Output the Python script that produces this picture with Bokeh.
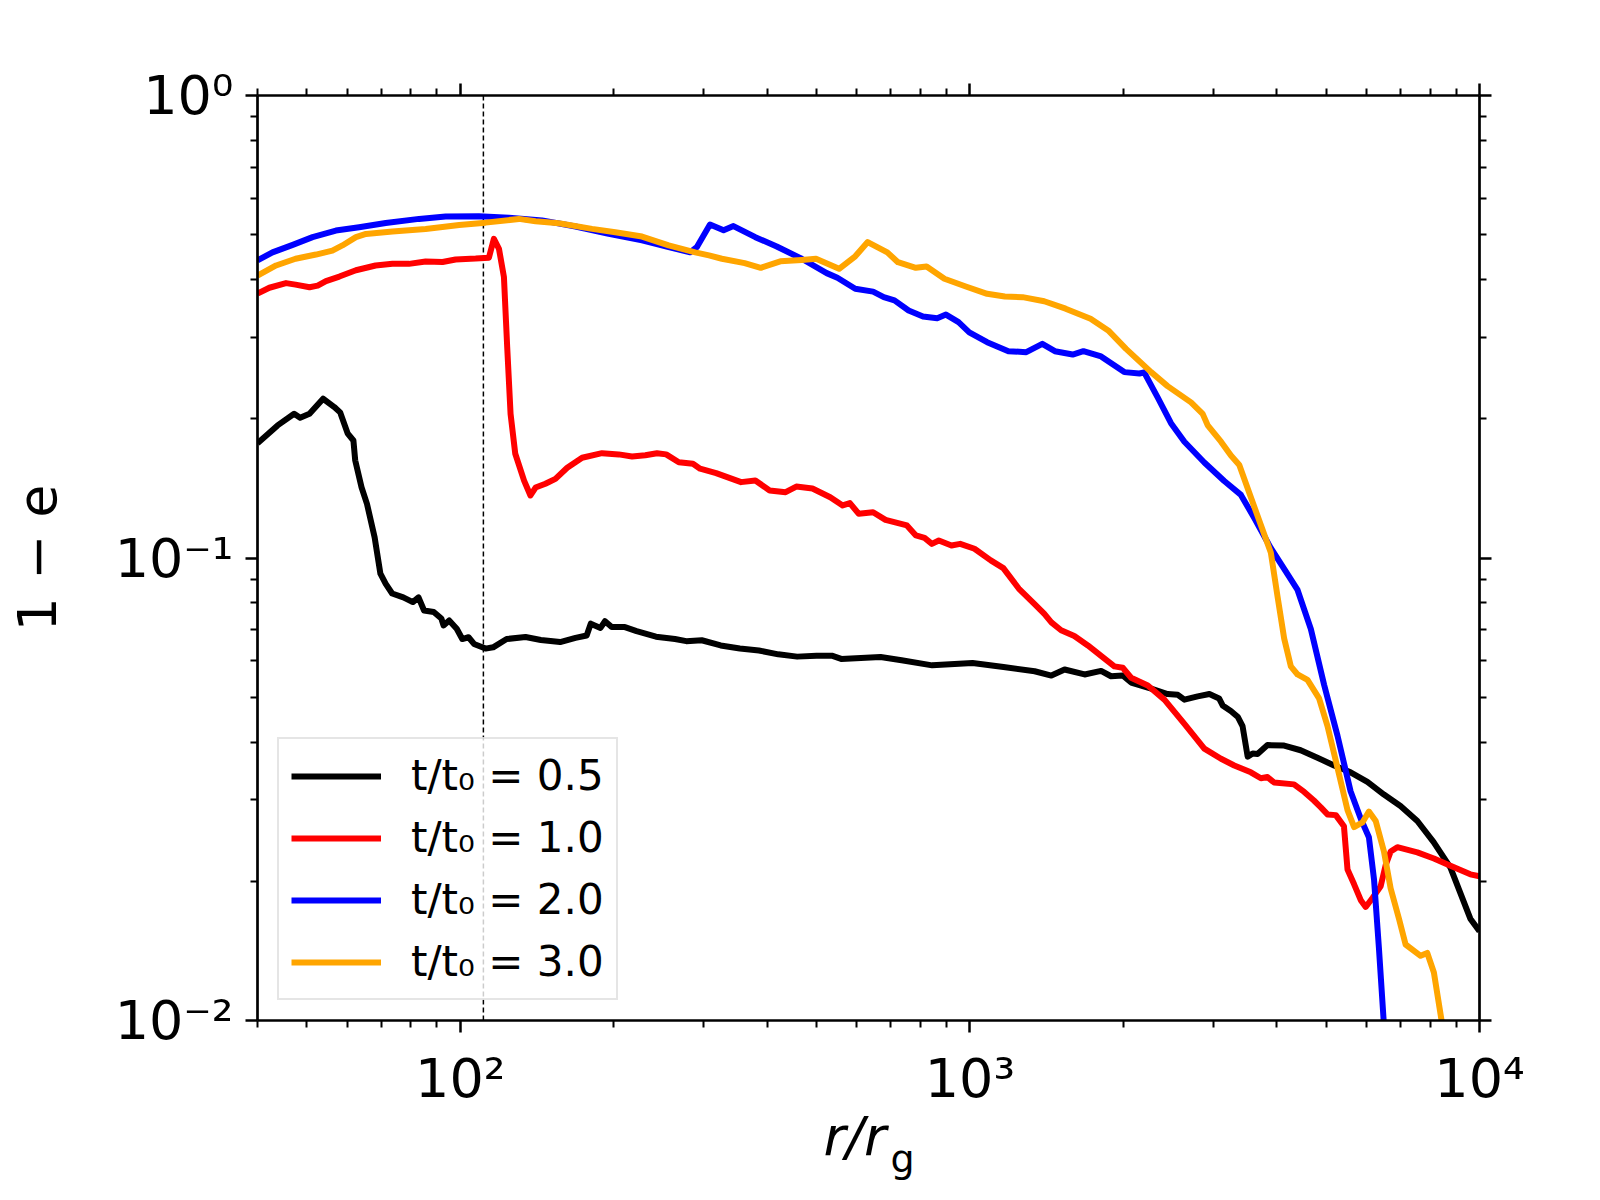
from bokeh.plotting import figure
from bokeh.models import (LogAxis, FixedTicker, CustomJSTickFormatter, Span,
                          Legend, LegendItem, Title)
from bokeh.embed import file_html
from bokeh.resources import INLINE

# ---------------- data ----------------
r_t05 = [40, 43.8, 47.2, 48.5, 50.6, 53.8, 56.6, 58.1, 60.1, 61.7,
         62.2, 64.0, 65.6, 67.9, 69.7, 71.4, 73.5, 77.3, 80.7, 82.8,
         84.9, 88.7, 91.8, 92.7, 95.1, 98.4, 100.9, 103.8, 106.4, 112.1,
         116.0, 123.3, 134.3, 143.9, 157.0, 168.3, 177.0, 180.3, 188.4, 192.3,
         198.2, 210.4, 221.8, 242.1, 263.8, 277.6, 297.7, 324.3, 353.7, 385.5,
         420.7, 458.1, 500.0, 535.8, 559.1, 667.9, 734.5, 843.3, 1012, 1164,
         1340, 1445, 1534, 1679, 1809, 1892, 1995, 2072, 2268, 2443,
         2559, 2636, 2799, 2951, 3083, 3133, 3251, 3357, 3428, 3508,
         3589, 3668, 3837, 4137, 4457, 4808, 5183, 5585, 6026, 6494,
         6998, 7551, 8128, 8770, 9594, 10000]
e_t05 = [0.177, 0.1935, 0.205, 0.201, 0.205, 0.221, 0.212, 0.2065, 0.186, 0.1795,
         0.1626, 0.1422, 0.1309, 0.1109, 0.0925, 0.0879, 0.0838, 0.0822, 0.0803, 0.0822,
         0.0770, 0.0764, 0.0740, 0.0715, 0.0733, 0.0703, 0.0668, 0.0674, 0.0652, 0.0637,
         0.0641, 0.0668, 0.0675, 0.0665, 0.0658, 0.0672, 0.0680, 0.0721, 0.0706, 0.0730,
         0.0709, 0.0709, 0.0695, 0.0676, 0.0668, 0.0661, 0.0664, 0.0647, 0.0637, 0.0631,
         0.0619, 0.0612, 0.0615, 0.0615, 0.0605, 0.0611, 0.0601, 0.0586, 0.0593, 0.0581,
         0.0569, 0.0557, 0.0574, 0.0560, 0.0570, 0.0555, 0.0557, 0.0538, 0.0522, 0.0508,
         0.0506, 0.0494, 0.0502, 0.0508, 0.0497, 0.0480, 0.0467, 0.0453, 0.0433, 0.0372,
         0.0378, 0.0377, 0.0394, 0.0393, 0.0384, 0.0370, 0.0356, 0.0344, 0.0328, 0.0308,
         0.0291, 0.0270, 0.0243, 0.0214, 0.0166, 0.0156]

r_t10 = [40, 42.2, 45.5, 47.5, 50.6, 52.5, 54.5, 57.9, 62.4, 68.2,
         73.6, 79.3, 85.5, 92.3, 97.9, 107.2, 113.8, 116.4, 119.1, 121.8,
         123.6, 125.5, 128.2, 133.4, 137.3, 140.5, 146.9, 153.7, 162.1, 173.4,
         189.7, 204.6, 217.3, 230.7, 243.2, 253.5, 268.4, 286.1, 295.5, 317.7,
         355.6, 379.3, 404.6, 434.9, 456.4, 490.9, 532.1, 562.8, 581.4, 605.3,
         645.7, 683.0, 752.4, 783.6, 814.7, 842.2, 869.0, 920.0, 957.2, 1021,
         1099, 1163, 1247, 1338, 1400, 1445, 1510, 1603, 1704, 1809,
         1921, 1995, 2072, 2234, 2408, 2636, 2884, 3110, 3302, 3559,
         3724, 3837, 3954, 4325, 4529, 4732, 4883, 5032, 5224, 5420,
         5508, 5675, 5848, 5980, 6166, 6397, 6546, 6694, 6899, 7551,
         8138, 8770, 9594, 10000]
e_t10 = [0.373, 0.384, 0.393, 0.390, 0.385, 0.388, 0.397, 0.406, 0.419, 0.429,
         0.4325, 0.4325, 0.4375, 0.4365, 0.442, 0.444, 0.446, 0.490, 0.466, 0.405,
         0.286, 0.205, 0.168, 0.147, 0.1365, 0.142, 0.1447, 0.1483, 0.1567, 0.1647,
         0.1685, 0.1675, 0.1658, 0.1668, 0.1685, 0.1675, 0.1611, 0.1598, 0.156, 0.1526,
         0.1459, 0.1471, 0.140, 0.1388, 0.1427, 0.1413, 0.1353, 0.1299, 0.1314, 0.1246,
         0.1256, 0.1209, 0.1176, 0.1119, 0.1105, 0.1073, 0.1091, 0.1064, 0.1073, 0.1047,
         0.0988, 0.0951, 0.0859, 0.0796, 0.0757, 0.0726, 0.0698, 0.0678, 0.0647, 0.0614,
         0.0583, 0.0579, 0.0551, 0.0530, 0.0494, 0.0438, 0.0387, 0.0368, 0.0356, 0.0344,
         0.0334, 0.0336, 0.0327, 0.0324, 0.0312, 0.0299, 0.0289, 0.0279, 0.0278, 0.0263,
         0.0212, 0.0197, 0.0182, 0.0176, 0.0184, 0.0195, 0.0217, 0.0232, 0.0237, 0.0231,
         0.0224, 0.0216, 0.0207, 0.0205]

r_t20 = [40, 42.8, 46.9, 51.3, 57.0, 63.3, 71.4, 83.0, 93.6, 108.8,
         124.6, 144.7, 168.3, 195.6, 227.3, 256.4, 282.5, 291.1, 309.0, 328.6,
         343.6, 379.3, 417.8, 467.7, 523.6, 549.5, 595.7, 645.7, 677.7, 711.2,
         758.2, 809.1, 862.7, 897.5, 950.0, 997.2, 1081, 1190, 1290, 1387,
         1468, 1591, 1670, 1809, 2009, 2151, 2198, 2337, 2481, 2636,
         2884, 3156, 3403, 3614, 3896, 4137, 4395, 4667, 4955, 5264,
         5585, 5848, 6067, 6209, 6349, 6494, 6546]
e_t20 = [0.440, 0.458, 0.4755, 0.494, 0.5105, 0.519, 0.530, 0.541, 0.5475, 0.548,
         0.544, 0.537, 0.521, 0.502, 0.486, 0.470, 0.458, 0.470, 0.526, 0.511,
         0.522, 0.494, 0.4715, 0.4436, 0.413, 0.4036, 0.382, 0.3767, 0.3664, 0.3606,
         0.3428, 0.3327, 0.330, 0.336, 0.3236, 0.3076, 0.2928, 0.280, 0.2786, 0.2904,
         0.280, 0.2754, 0.280, 0.2727, 0.2523, 0.2506, 0.2520, 0.2222, 0.1956, 0.1784,
         0.1609, 0.1467, 0.1369, 0.1220, 0.1050, 0.0947, 0.0853, 0.0702, 0.0532, 0.0413,
         0.0313, 0.0273, 0.0249, 0.0202, 0.0143, 0.00977, 0.0087]

r_t30 = [40, 43.5, 47.5, 52.1, 56.1, 58.7, 62.4, 65.3, 73.6, 85.5,
         99.5, 112.1, 130.3, 140.5, 156.1, 181.4, 201.5, 227.3, 256.4, 289.1,
         307.6, 326.1, 361.4, 388.6, 424.6, 467.7, 498.9, 553.8, 595.7, 630.2,
         688.6, 722.4, 783.2, 822.2, 891.3, 981.7, 1081, 1171, 1269, 1399,
         1541, 1725, 1868, 2025, 2268, 2443, 2716, 2863, 2929, 3110,
         3253, 3378, 3559, 3780, 3896, 4016, 4137, 4264, 4395, 4597,
         4844, 5032, 5264, 5508, 5675, 5892, 6067, 6257, 6494, 6694,
         6950, 7161, 7663, 7898, 8138, 8453, 8511]
e_t30 = [0.408, 0.429, 0.4436, 0.453, 0.462, 0.474, 0.494, 0.502, 0.508, 0.5145,
         0.525, 0.531, 0.541, 0.5345, 0.5295, 0.5147, 0.506, 0.4955, 0.474, 0.458,
         0.451, 0.4436, 0.434, 0.424, 0.438, 0.441, 0.4436, 0.422, 0.449, 0.482,
         0.458, 0.436, 0.424, 0.427, 0.4015, 0.3864, 0.3726, 0.3676, 0.3664, 0.359,
         0.346, 0.329, 0.3105, 0.2833, 0.2523, 0.2353, 0.217, 0.2049, 0.1935, 0.1784,
         0.1665, 0.1589, 0.1353, 0.1125, 0.1026, 0.0824, 0.0670, 0.0583, 0.0560, 0.0545,
         0.0497, 0.0433, 0.0352, 0.0285, 0.0262, 0.0268, 0.0283, 0.0270, 0.0232, 0.0193,
         0.0166, 0.0146, 0.0138, 0.0140, 0.0127, 0.00977, 0.0089]

series_labels = ["t/t₀ = 0.5", "t/t₀ = 1.0", "t/t₀ = 2.0", "t/t₀ = 3.0"]
series_colors = ["black", "red", "blue", "orange"]
r_marker = 111  # vertical dashed reference radius

x_major = [100, 1000, 10000]
x_major_labels = ["10²", "10³", "10⁴"]
x_minor = [40, 50, 60, 70, 80, 90, 200, 300, 400, 500, 600, 700, 800, 900,
           2000, 3000, 4000, 5000, 6000, 7000, 8000, 9000]
y_major = [0.01, 0.1, 1]
y_major_labels = ["10⁻²", "10⁻¹", "10⁰"]
y_minor = [0.02, 0.03, 0.04, 0.05, 0.06, 0.07, 0.08, 0.09,
           0.2, 0.3, 0.4, 0.5, 0.6, 0.7, 0.8, 0.9]

x_label_main = "r/r"
x_label_sub = "g"
y_label = "1 − e"

# ---------------- figure ----------------
FONT = "DejaVu Sans"
p = figure(width=1596, height=1196, x_axis_type="log", y_axis_type="log",
           x_range=(40, 10000), y_range=(0.01, 1),
           output_backend="svg", toolbar_location=None,
           min_border_left=257, min_border_right=117,
           min_border_top=95, min_border_bottom=176)
p.grid.visible = False
p.outline_line_color = None
p.background_fill_color = "white"
p.border_fill_color = "white"


def fmt(tick_values, tick_labels):
    return CustomJSTickFormatter(args=dict(tvals=tick_values, tlabs=tick_labels), code="""
        for (let i = 0; i < tvals.length; i++) {
            if (Math.abs(Math.log10(tvals[i]) - Math.log10(tick)) < 1e-6) { return tlabs[i]; }
        }
        return "";
    """)


def style(ax, major, minor):
    ax.ticker = FixedTicker(ticks=major, minor_ticks=minor)
    ax.axis_line_color = "black"
    ax.axis_line_width = 2.7
    ax.major_tick_line_color = "black"
    ax.minor_tick_line_color = "black"
    ax.major_tick_line_width = 2.5
    ax.minor_tick_line_width = 2
    ax.major_tick_out = 12
    ax.major_tick_in = 0
    ax.minor_tick_out = 7
    ax.minor_tick_in = 0
    ax.major_label_text_font = FONT
    ax.major_label_text_font_size = "54px"
    ax.major_label_text_color = "black"


xb = p.below[0]
style(xb, x_major, x_minor)
xb.formatter = fmt(x_major, x_major_labels)
xb.major_label_standoff = 14

yl = p.left[0]
style(yl, y_major, y_minor)
yl.formatter = fmt(y_major, y_major_labels)
yl.major_label_standoff = 12
yl.axis_label = y_label
yl.axis_label_text_font = FONT
yl.axis_label_text_font_size = "54px"
yl.axis_label_text_font_style = "normal"
yl.axis_label_text_color = "black"
yl.axis_label_standoff = 43

xt = LogAxis()
style(xt, x_major, x_minor)
xt.formatter = fmt([], [])
p.add_layout(xt, "above")

yr = LogAxis()
style(yr, y_major, y_minor)
yr.formatter = fmt([], [])
p.add_layout(yr, "right")

p.add_layout(Span(location=r_marker, dimension="height", line_color="black",
                  line_width=1.5, line_dash="5 3", level="underlay"))

renderers = []
for rr, ee, col in zip([r_t05, r_t10, r_t20, r_t30], [e_t05, e_t10, e_t20, e_t30], series_colors):
    renderers.append(p.line(rr, ee, line_color=col, line_width=6, line_join="round"))

legend = Legend(items=[LegendItem(label=lab, renderers=[rend])
                       for lab, rend in zip(series_labels, renderers)],
                location="bottom_left")
legend.label_text_font = FONT
legend.label_text_font_size = "42px"
legend.label_text_color = "black"
legend.glyph_width = 90
legend.glyph_height = 40
legend.label_standoff = 30
legend.spacing = 13
legend.padding = 12
legend.margin = 20
legend.border_line_color = "#cccccc"
legend.border_line_width = 2.5
legend.background_fill_color = "white"
legend.background_fill_alpha = 0.8
p.add_layout(legend)

# x-axis label "r/r_g": main part and lowered subscript, placed in the bottom panel
t_main = Title(text=x_label_main, align="left", offset=566, standoff=-20,
               text_font=FONT, text_font_size="54px", text_font_style="italic",
               text_color="black")
t_sub = Title(text=x_label_sub, align="left", offset=633, standoff=-46,
              text_font=FONT, text_font_size="38px", text_font_style="normal",
              text_color="black")
p.add_layout(t_main, "below")
p.add_layout(t_sub, "below")

with open("out.html", "w", encoding="utf-8") as f:
    f.write(file_html(p, INLINE))
